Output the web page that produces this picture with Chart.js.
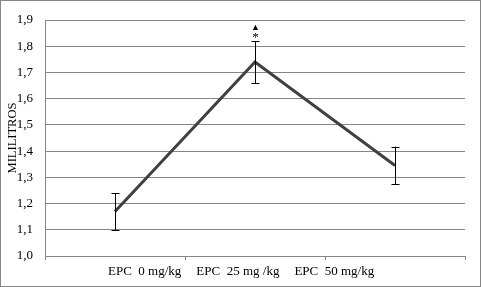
<!DOCTYPE html>
<html>
<head>
<meta charset="utf-8">
<script src="https://cdn.jsdelivr.net/npm/chart.js@4/dist/chart.umd.min.js"></script>
<style>
  body { margin: 0; background: #fff; }
  #wrap { width: 481px; height: 287px; position: relative; }
</style>
</head>
<body>
<div id="wrap"><canvas id="myChart"></canvas></div>
<script>
const categories = ["EPC  0 mg/kg", "EPC  25 mg /kg", "EPC  50 mg/kg"];
const means = [1.17, 1.74, 1.345];
const errors = [0.07, 0.08, 0.072];
const marks = ["", "▲\n*", ""];
const yTicks = [1.0, 1.1, 1.2, 1.3, 1.4, 1.5, 1.6, 1.7, 1.8, 1.9];

const gray = "#868686";
const serif = "Liberation Serif";
Chart.defaults.font.family = serif;

// error bars + significance marks
const errorBars = {
	id: "errorBars",
	afterDatasetsDraw(chart) {
		const ctx = chart.ctx;
		const x = chart.scales.x, y = chart.scales.y;
		ctx.save();
		ctx.strokeStyle = "#000";
		ctx.lineWidth = 1;
		means.forEach((m, i) => {
			const px = Math.round(x.getPixelForValue(i)) + 0.5;
			const top = y.getPixelForValue(m + errors[i]);
			const bot = y.getPixelForValue(m - errors[i]);
			ctx.beginPath();
			ctx.moveTo(px, top); ctx.lineTo(px, bot);
			ctx.moveTo(px - 4, Math.round(top) + 0.5); ctx.lineTo(px + 4, Math.round(top) + 0.5);
			ctx.moveTo(px - 4, Math.round(bot) + 0.5); ctx.lineTo(px + 4, Math.round(bot) + 0.5);
			ctx.stroke();
			if (marks[i]) {
				ctx.fillStyle = "#000";
				ctx.textAlign = "center";
				ctx.textBaseline = "middle";
				ctx.font = "9px '" + serif + "'";
				ctx.fillText("▲", px, top - 13);
				ctx.font = "13px '" + serif + "'";
				ctx.fillText("*", px, top - 3);
			}
		});
		ctx.restore();
	}
};

// category labels as laid out in the original (packed left of centre)
const xLabels = {
	id: "xLabels",
	afterDraw(chart) {
		const ctx = chart.ctx;
		const area = chart.chartArea;
		ctx.save();
		ctx.font = "13px '" + serif + "'";
		ctx.fillStyle = "#000";
		ctx.textBaseline = "middle";
		let left = area.left + 63;
		categories.forEach((c) => {
			ctx.fillText(c, left, area.bottom + 16);
			left += ctx.measureText(c).width + 15;
		});
		// outer frame
		ctx.strokeStyle = gray;
		ctx.lineWidth = 1;
		ctx.strokeRect(0.5, 0.5, chart.width - 1, chart.height - 1);
		ctx.restore();
	}
};

new Chart(document.getElementById("myChart"), {
	type: "line",
	data: {
		labels: categories,
		datasets: [{
			data: means,
			borderColor: "#404040",
			borderWidth: 3,
			pointRadius: 0,
			tension: 0
		}]
	},
	options: {
		responsive: true,
		maintainAspectRatio: false,
		animation: false,
		layout: { padding: { left: 0, top: 20, right: 16, bottom: 0 } },
		plugins: { legend: { display: false }, tooltip: { enabled: false } },
		scales: {
			x: {
				offset: true,
				grid: { offset: true, drawOnChartArea: false, drawTicks: true, tickLength: 4, color: gray },
				border: { color: gray },
				ticks: { callback: () => "", padding: 0 },
				afterFit: (s) => { s.height = 31; }
			},
			y: {
				min: 1.0,
				max: 1.9,
				afterBuildTicks: (s) => { s.ticks = yTicks.map(v => ({ value: v })); },
				grid: { color: gray, drawTicks: false },
				border: { color: gray },
				ticks: {
					padding: 12,
					color: "#000",
					font: { size: 13 },
					callback: (v) => v.toFixed(1).replace(".", ",")
				},
				title: {
					display: true,
					text: "MILILITROS",
					color: "#000",
					font: { size: 12.5 },
					padding: { top: 5, bottom: 0 }
				},
				afterFit: (s) => { s.width = 45; }
			}
		}
	},
	plugins: [errorBars, xLabels]
});
</script>
</body>
</html>
